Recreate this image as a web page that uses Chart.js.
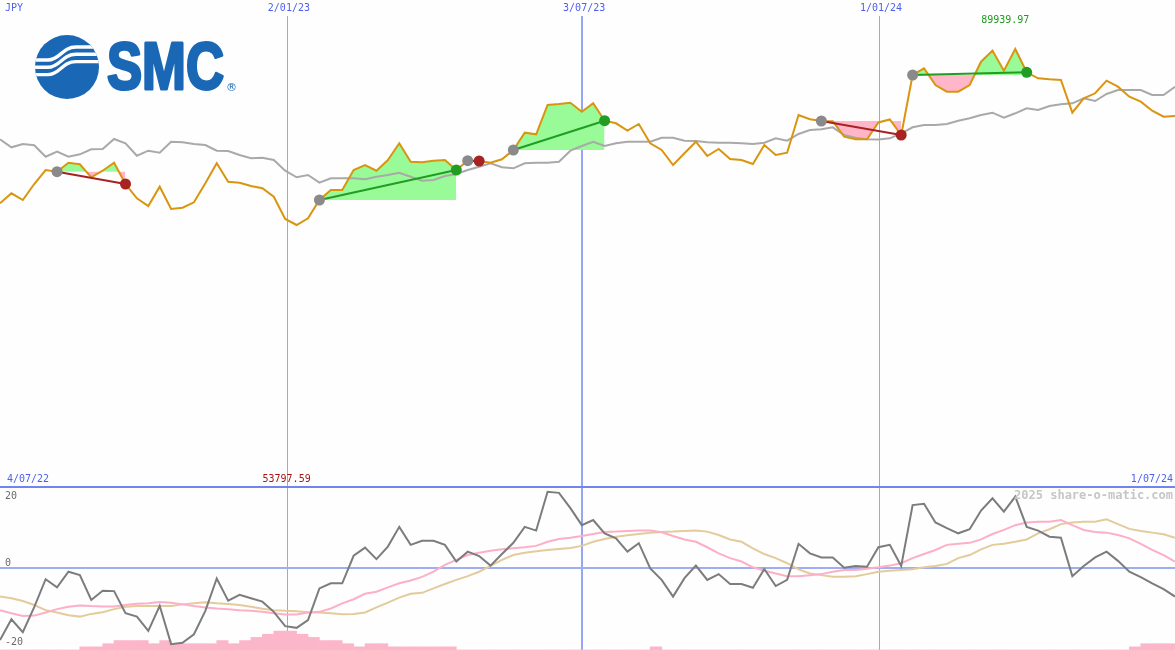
<!DOCTYPE html>
<html lang="en">
<head>
<meta charset="UTF-8">
<title>SMC weekly chart</title>
<script src="https://cdn.jsdelivr.net/npm/chart.js"></script>
<style>
  html, body { margin: 0; padding: 0; background: #fdfefd; }
  canvas { display: block; }
</style>
</head>
<body>
<canvas id="smcChart" width="1175" height="650"></canvas>
<script>
// weekly closes in JPY, index 0 = first week on the chart
const closes = [
  58255, 60308, 58933, 62218, 65093, 64744, 66592, 66263, 63594, 64949,
  66592, 62218, 59282, 57701, 61664, 57085, 57352, 58460, 62362, 66469,
  62691, 62485, 61807, 61335, 59610, 55031, 53797.59, 55175, 58933, 60986,
  60986, 65093, 66119, 64949, 67146, 70575, 66797, 66674, 67003, 67146,
  65093, 67003, 66941, 66592, 67290, 69200, 72752, 72423, 78440, 78645,
  78913, 77064, 78789, 75216, 74682, 73163, 74538, 70575, 69200, 66119,
  68522, 70904, 67968, 69405, 67352, 67146, 66325, 70226, 68173, 68645,
  76386, 75503, 75154, 75100, 71931, 71397, 71397, 74847, 75462, 72280,
  84600, 85976, 82547, 81171, 81171, 82547, 87331, 89630, 85483, 89939.97,
  85154, 83922, 83717, 83573, 76859, 79816, 80843, 83430, 82198, 80144,
  79118, 77270, 76038, 76181
];

// slow average drawn in grey over the closes
const avgLine = [
  71397, 69754, 70432, 70165, 67824, 68851, 67824, 68317, 69343, 69405,
  71458, 70575, 68030, 69057, 68645, 70904, 70781, 70432, 70226, 69057,
  68994, 68173, 67495, 67618, 67146, 64949, 63594, 64066, 62485, 63388,
  63388, 63388, 63183, 63717, 64066, 64538, 63717, 62896, 63039, 63861,
  64271, 65093, 65770, 66469, 65647, 65442, 66469, 66592, 66592, 66797,
  69057, 70021, 70904, 70021, 70575, 70904, 70904, 70904, 71725, 71725,
  71110, 71048, 70781, 70699, 70699, 70575, 70432, 70699, 71602, 71110,
  72485, 73306, 73450, 73861, 72280, 71725, 71397, 71356, 71602, 72629,
  73861, 74333, 74333, 74538, 75216, 75709, 76386, 76859, 75832, 76735,
  77762, 77413, 78235, 78584, 78789, 79816, 79261, 80699, 81520, 81520,
  81520, 80493, 80493, 82198
];

// lower panel oscillator
const oscMain = [
  -21.2, -15.1, -18.9, -11.5, -3.3, -5.7, -1.1, -2.1, -9.4, -6.7,
  -6.8, -13.3, -14.3, -18.5, -11.1, -22.4, -22.0, -19.5, -12.6, -3.1,
  -9.6, -7.9, -8.9, -9.9, -12.9, -17.1, -17.6, -15.3, -6.0, -4.5,
  -4.5, 3.6, 6.0, 2.6, 6.3, 12.1, 6.8, 8.0, 8.0, 6.8,
  1.9, 4.8, 3.5, 0.7, 4.1, 7.4, 12.1, 11.0, 22.4, 22.1,
  17.6, 12.6, 14.1, 10.2, 8.7, 4.8, 7.3, -0.1, -3.5, -8.4,
  -3.0, 0.7, -3.5, -1.8, -4.7, -4.7, -5.8, -0.3, -5.3, -3.5,
  7.1, 4.3, 3.1, 3.1, 0.1, 0.6, 0.4, 6.1, 6.8, 0.6,
  18.5, 18.9, 13.4, 11.7, 10.2, 11.4, 16.9, 20.5, 16.6, 21.0,
  12.1, 11.0, 9.2, 8.9, -2.4, 0.6, 3.1, 4.8, 2.1, -1.1,
  -2.7, -4.5, -6.2, -8.4
];
const oscPink = [
  -12.4, -13.3, -14.1, -14.0, -13.1, -12.1, -11.4, -11.0, -11.2, -11.3,
  -11.3, -10.9, -10.5, -10.4, -10.0, -10.2, -10.7, -11.2, -11.6, -11.9,
  -12.1, -12.4, -12.6, -12.9, -13.3, -13.7, -13.7, -13.1, -12.9, -11.9,
  -10.4, -9.2, -7.6, -7.0, -5.7, -4.5, -3.7, -2.6, -1.1, 0.9,
  2.4, 3.8, 4.5, 5.1, 5.5, 5.8, 6.1, 6.5, 7.7, 8.5,
  8.9, 9.4, 10.0, 10.6, 10.7, 10.9, 11.0, 11.0, 10.5, 9.4,
  8.4, 7.7, 6.1, 4.3, 2.9, 1.9, 0.2, -0.8, -1.6, -2.4,
  -2.4, -2.1, -1.8, -1.1, -0.6, -0.6, -0.2, 0.2, 0.7, 1.4,
  2.9, 4.1, 5.3, 6.8, 7.1, 7.4, 8.4, 10.0, 11.2, 12.6,
  13.4, 13.6, 13.6, 14.1, 12.6, 11.2, 10.6, 10.4, 9.7, 8.7,
  7.1, 5.3, 3.8, 1.9
];
const oscTan = [
  -8.4, -8.9, -9.7, -10.9, -12.4, -13.1, -13.9, -14.3, -13.5, -13.0,
  -12.1, -11.4, -11.2, -11.2, -11.2, -11.2, -10.7, -10.4, -10.1, -10.4,
  -10.6, -10.9, -11.4, -12.0, -12.4, -12.6, -12.7, -13.0, -13.1, -13.3,
  -13.6, -13.5, -13.1, -11.6, -10.2, -8.7, -7.6, -7.3, -6.0, -4.7,
  -3.5, -2.4, -1.1, 0.6, 2.4, 3.8, 4.5, 4.9, 5.3, 5.6,
  5.9, 6.5, 7.7, 8.5, 9.2, 9.6, 10.0, 10.4, 10.6, 10.7,
  10.9, 11.0, 10.7, 9.7, 8.4, 7.7, 5.8, 4.1, 2.9, 1.4,
  -0.4, -1.6, -2.1, -2.6, -2.6, -2.4, -1.8, -1.1, -0.8, -0.6,
  -0.4, 0.2, 0.6, 1.2, 2.9, 3.8, 5.5, 6.8, 7.1, 7.7,
  8.4, 10.2, 11.4, 12.9, 13.4, 13.6, 13.6, 14.3, 12.9, 11.5,
  10.9, 10.4, 9.9, 8.9
];

// pink blocks along the bottom edge, one per week gap
const histBars = [
  0, 0, 0, 0, 0, 0, 0, 1, 1, 2,
  3, 3, 3, 2, 3, 2, 2, 2, 2, 3,
  2, 3, 4, 5, 6, 6, 5, 4, 3, 3,
  2, 1, 2, 2, 1, 1, 1, 1, 1, 1,
  0, 0, 0, 0, 0, 0, 0, 0, 0, 0,
  0, 0, 0, 0, 0, 0, 0, 1, 0, 0,
  0, 0, 0, 0, 0, 0, 0, 0, 0, 0,
  0, 0, 0, 0, 0, 0, 0, 0, 0, 0,
  0, 0, 0, 0, 0, 0, 0, 0, 0, 0,
  0, 0, 0, 0, 0, 0, 0, 0, 0, 1,
  2, 2, 2
];

// trend segments [start week, end week]
const trends = [[5, 11], [28, 40], [41, 42], [45, 53], [72, 79], [80, 90]];

const dateLabels = ['2/01/23', '3/07/23', '1/01/24'];
const datePos = [25.15, 51.03, 77.05];
const firstDate = '4/07/22';
const lastDate = '1/07/24';
const currency = 'JPY';
const oscTicks = [20, 0, -20];

const GREEN_FILL = '#98fb98';
const PINK_FILL = '#ffb6c8';
const UP = '#239c23';
const DOWN = '#a82222';

const pts = arr => arr.map((v, i) => ({ x: i, y: v }));

const datasets = [
  {
    type: 'bar', yAxisID: 'yh', order: 20,
    data: histBars.map((v, i) => ({ x: i + 0.5, y: v })),
    backgroundColor: '#fcb6ca', borderWidth: 0,
    barPercentage: 1, categoryPercentage: 1
  },
  { type: 'line', yAxisID: 'yo', order: 11, data: pts(oscTan), borderColor: '#e3cb9c', borderWidth: 2 },
  { type: 'line', yAxisID: 'yo', order: 10, data: pts(oscPink), borderColor: '#fdafc6', borderWidth: 2 },
  { type: 'line', yAxisID: 'yo', order: 9, data: pts(oscMain), borderColor: '#7c7c7c', borderWidth: 2 },
  { type: 'line', yAxisID: 'yp', order: 12, data: pts(avgLine), borderColor: '#a9a9a9', borderWidth: 2 },
  { type: 'line', yAxisID: 'yp', order: 8, data: pts(closes), borderColor: '#d9950f', borderWidth: 2 }
];

trends.forEach(([s, e]) => {
  const up = closes[e] >= closes[s];
  datasets.push({
    type: 'line', yAxisID: 'yp', order: 15,
    data: closes.slice(s, e + 1).map((v, j) => ({ x: s + j, y: v })),
    borderColor: 'rgba(0,0,0,0)', borderWidth: 1,
    fill: { target: { value: closes[s] }, above: GREEN_FILL, below: PINK_FILL }
  });
  datasets.push({
    type: 'line', yAxisID: 'yp', order: 3,
    data: [{ x: s, y: closes[s] }, { x: e, y: closes[e] }],
    borderColor: up ? UP : DOWN, borderWidth: 2,
    pointRadius: 5.5, pointBorderWidth: 0,
    pointBackgroundColor: ['#8a8a8a', up ? UP : DOWN],
    fill: false
  });
});

function drawLogo(ctx) {
  const blue = '#1a68b5';
  ctx.save();
  ctx.fillStyle = blue;
  ctx.beginPath();
  ctx.arc(67, 67, 32, 0, Math.PI * 2);
  ctx.fill();
  ctx.clip();
  ctx.strokeStyle = '#fdfefd';
  ctx.lineWidth = 3.4;
  [0, 7.3, 14.6].forEach(d => {
    ctx.beginPath();
    ctx.moveTo(30, 60 + d);
    ctx.lineTo(48, 60 + d);
    ctx.bezierCurveTo(60, 60 + d, 62, 47 + d, 76, 47 + d);
    ctx.lineTo(104, 47 + d);
    ctx.stroke();
  });
  ctx.restore();

  // heavy wordmark: bold face plus a stroke to thicken it
  ctx.save();
  ctx.fillStyle = blue;
  ctx.strokeStyle = blue;
  ctx.lineWidth = 3;
  ctx.lineJoin = 'round';
  ctx.font = 'bold 66px "Liberation Sans"';
  ctx.textBaseline = 'alphabetic';
  const w = ctx.measureText('SMC').width;
  ctx.translate(107, 89);
  ctx.scale(117 / w, 1);
  ctx.fillText('SMC', 0, 0);
  ctx.strokeText('SMC', 0, 0);
  ctx.restore();
  ctx.save();
  ctx.fillStyle = blue;
  ctx.font = '11px "DejaVu Sans"';
  ctx.textBaseline = 'middle';
  ctx.fillText('\u00AE', 226, 88);
  ctx.restore();
}

const panelPlugin = {
  id: 'panelPlugin',
  beforeDraw(chart) {
    const ctx = chart.ctx;
    ctx.save();
    ctx.fillStyle = '#fdfefd';
    ctx.fillRect(0, 0, chart.width, chart.height);
    ctx.restore();
    drawLogo(ctx);
  },
  beforeDatasetsDraw(chart) {
    const ctx = chart.ctx;
    const { x, yp, yo } = chart.scales;
    const area = chart.chartArea;
    ctx.save();
    // date markers
    datePos.forEach((d, i) => {
      const px = Math.round(x.getPixelForValue(d));
      const thick = i === 1;
      ctx.strokeStyle = '#96a6f6';
      ctx.lineWidth = thick ? 2 : 1;
      ctx.beginPath();
      ctx.moveTo(px + (thick ? 0 : 0.5), 16);
      ctx.lineTo(px + (thick ? 0 : 0.5), area.bottom);
      ctx.stroke();
    });
    // panel separator (price zero) and oscillator zero line
    const sep = yp.getPixelForValue(0);
    ctx.strokeStyle = '#7484ee';
    ctx.lineWidth = 2;
    ctx.beginPath(); ctx.moveTo(area.left, sep); ctx.lineTo(area.right, sep); ctx.stroke();
    const zero = yo.getPixelForValue(0);
    ctx.strokeStyle = '#9fadf2';
    ctx.beginPath(); ctx.moveTo(area.left, zero); ctx.lineTo(area.right, zero); ctx.stroke();
    ctx.restore();
  },
  afterDraw(chart) {
    const ctx = chart.ctx;
    const { x, yp, yo } = chart.scales;
    const area = chart.chartArea;
    const sep = yp.getPixelForValue(0);
    ctx.save();
    ctx.font = '10px "DejaVu Sans Mono"';
    ctx.textBaseline = 'middle';
    ctx.fillStyle = '#4d5ff0';
    ctx.textAlign = 'left';
    ctx.fillText(currency, 5, 8);
    ctx.textAlign = 'center';
    dateLabels.forEach((t, i) => ctx.fillText(t, x.getPixelForValue(datePos[i]) + 2, 8));
    ctx.textAlign = 'left';
    ctx.fillText(firstDate, 7, sep - 8);
    ctx.textAlign = 'right';
    ctx.fillText(lastDate, area.right - 2, sep - 8);

    // extreme values
    const hi = Math.max(...closes), lo = Math.min(...closes);
    ctx.textAlign = 'center';
    ctx.fillStyle = '#1f991f';
    ctx.fillText(hi.toFixed(2), x.getPixelForValue(closes.indexOf(hi)) - 10, 20);
    ctx.fillStyle = '#a51515';
    ctx.fillText(lo.toFixed(2), x.getPixelForValue(closes.indexOf(lo)) - 10, sep - 8);

    // oscillator ticks
    ctx.textAlign = 'left';
    ctx.fillStyle = '#6a6a6a';
    oscTicks.forEach(v => {
      let py = yo.getPixelForValue(v) + (v < 0 ? 6 : -5);
      py = Math.max(sep + 9, Math.min(area.bottom - 8, py));
      ctx.fillText(String(v), 5, py);
    });

    ctx.font = 'bold 12px "DejaVu Sans Mono"';
    ctx.fillStyle = '#c6c6c6';
    ctx.textAlign = 'right';
    ctx.fillText('2025 share-o-matic.com', area.right - 2, sep + 9);
    ctx.restore();
  }
};

new Chart(document.getElementById('smcChart'), {
  type: 'line',
  data: { datasets: datasets },
  options: {
    responsive: false,
    animation: false,
    events: [],
    layout: { padding: 0, autoPadding: false },
    elements: {
      line: { tension: 0, fill: false },
      point: { radius: 0 }
    },
    plugins: {
      legend: { display: false },
      tooltip: { enabled: false }
    },
    scales: {
      x: { type: 'linear', min: 0, max: 103, offset: false, display: false },
      yp: { type: 'linear', min: -33470, max: 100000, display: false },
      yo: { type: 'linear', min: -24.12, max: 167.06, display: false },
      yh: { type: 'linear', min: 0, max: 206.35, display: false }
    }
  },
  plugins: [panelPlugin]
});
</script>
</body>
</html>
